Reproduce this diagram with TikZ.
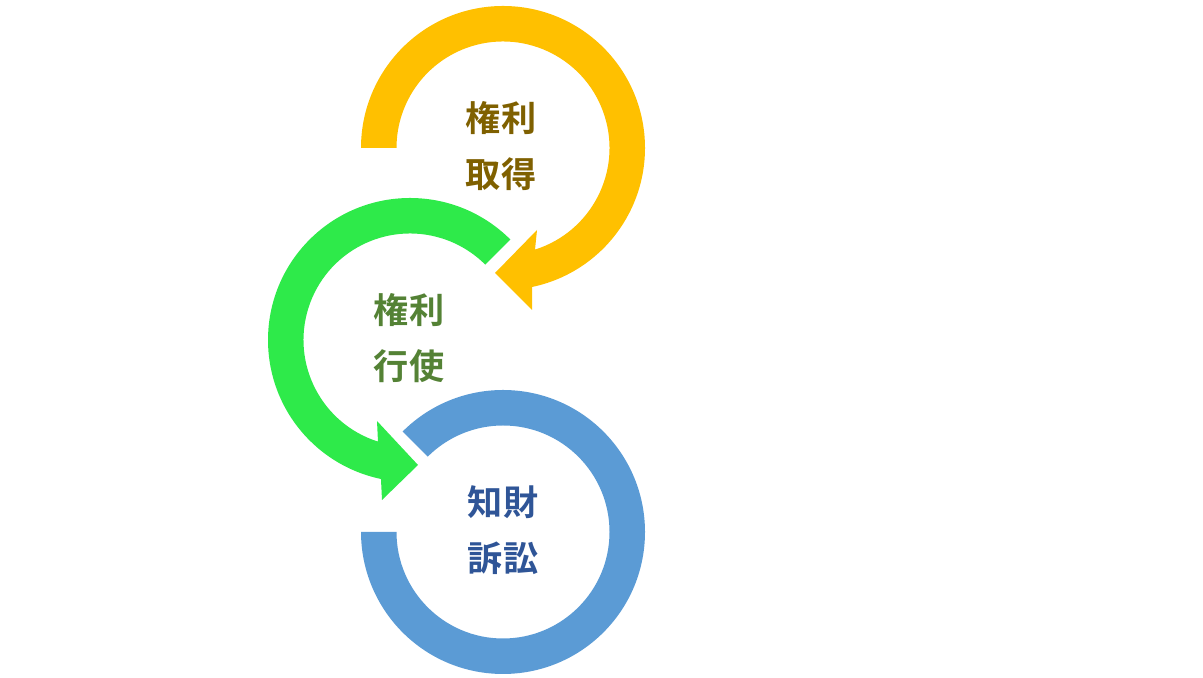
\documentclass[tikz,border=0pt]{standalone}
\usepackage{fontspec}
\newfontfamily\cjk{Noto Sans CJK JP}[BoldFont={Noto Sans CJK JP Bold}]
\usepackage{tikz}
\usetikzlibrary{calc}

\definecolor{ringgold}{RGB}{255,192,0}
\definecolor{ringgreen}{RGB}{46,234,74}
\definecolor{ringblue}{RGB}{91,155,213}
\definecolor{textgold}{RGB}{127,96,0}
\definecolor{textgreen}{RGB}{84,130,53}
\definecolor{textblue}{RGB}{47,85,151}

\tikzset{
  steplabel/.style={align=center,font=\cjk\bfseries\fontsize{20}{32}\selectfont}
}

\begin{document}
\begin{tikzpicture}[x=0.02cm,y=0.02cm]
	\useasboundingbox (0,0) rectangle (1203,678);
	% ring centres
	\coordinate (cgold) at (503,530);
	\coordinate (cgreen) at (410,338);
	\coordinate (cblue) at (503,146);
	% arrowhead points
	\coordinate (goldbarbA) at (532,368);
	\coordinate (goldtip) at (495,405);
	\coordinate (goldbarbB) at (537,448);
	\coordinate (greenbarbA) at (382,178);
	\coordinate (greentip) at (418,213);
	\coordinate (greenbarbB) at (377,257);
	%Kenri shutoku
	\fill[ringgold] ($(cgold)+(180:142)$) arc[start angle=180,end angle=-78.2,radius=142]
	  -- (goldbarbA) -- (goldtip) -- (goldbarbB)
	  -- ($(cgold)+(-72.5:106.5)$) arc[start angle=-72.5,end angle=180,radius=106.5] -- cycle;
	%Kenri koshi
	\fill[ringgreen] ($(cgreen)+(45:142)$) arc[start angle=45,end angle=258.2,radius=142]
	  -- (greenbarbA) -- (greentip) -- (greenbarbB)
	  -- ($(cgreen)+(252.5:106.5)$) arc[start angle=252.5,end angle=45,radius=106.5] -- cycle;
	%Chizai sosho
	\fill[ringblue] ($(cblue)+(135:142)$) arc[start angle=135,end angle=-180,radius=142]
	  -- ($(cblue)+(-180:106.5)$) arc[start angle=-180,end angle=135,radius=106.5] -- cycle;
	% labels
	\node[steplabel,text=textgold] (shutoku) at ($(cgold)+(-2,2)$) {権利\\取得};
	\node[steplabel,text=textgreen] (koshi) at ($(cgreen)+(-1,2)$) {権利\\行使};
	\node[steplabel,text=textblue] (sosho) at ($(cblue)+(0,2)$) {知財\\訴訟};
\end{tikzpicture}
\end{document}
